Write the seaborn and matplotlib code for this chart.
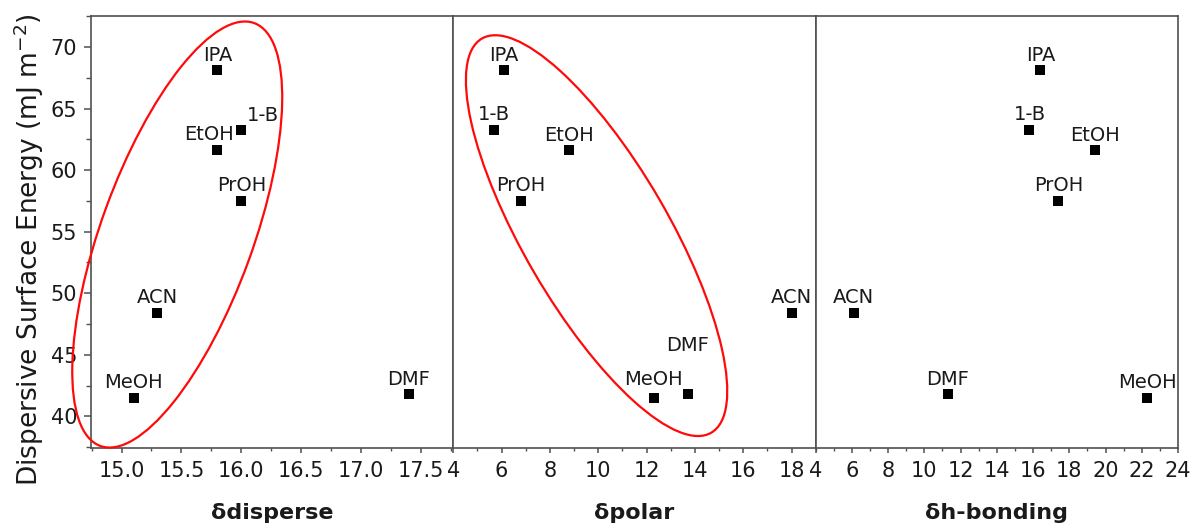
import numpy as np
import pandas as pd
import matplotlib
matplotlib.use("Agg")
import matplotlib.pyplot as plt
from matplotlib.patches import Ellipse
from matplotlib.transforms import ScaledTranslation
from matplotlib.ticker import MultipleLocator, FormatStrFormatter
import seaborn as sns

# Hansen solubility parameters of the solvents and the measured dispersive surface energy
solvents = ["MeOH", "EtOH", "IPA", "PrOH", "1-B", "ACN", "DMF"]
d_disperse = [15.1, 15.8, 15.8, 16.0, 16.0, 15.3, 17.4]
d_polar = [12.3, 8.8, 6.1, 6.8, 5.7, 18.0, 13.7]
d_hbond = [22.3, 19.4, 16.4, 17.4, 15.8, 6.1, 11.3]
surface_energy = [41.5, 61.6, 68.1, 57.5, 63.3, 48.4, 41.8]

panel_titles = ["\u03b4disperse", "\u03b4polar", "\u03b4h-bonding"]
y_title = "Dispersive Surface Energy (mJ m$^{-2}$)"

df = pd.DataFrame({
    "solvent": solvents,
    "disperse": d_disperse,
    "polar": d_polar,
    "hbond": d_hbond,
    "energy": surface_energy,
})

sns.set_style("ticks")
plt.rcParams["font.family"] = ["DejaVu Sans"]

frame_color = "#505050"
text_color = "#1a1a1a"

fig, axes = plt.subplots(1, 3, figsize=(11.95, 5.25), dpi=100, sharey=True)
fig.subplots_adjust(left=91 / 1195, right=1178 / 1195,
                    bottom=77.5 / 525, top=1 - 16 / 525, wspace=0)

columns = ["disperse", "polar", "hbond"]
xlims = [(14.745, 17.77), (4, 19), (4, 24)]
majors = [0.5, 2, 2]
minors = [0.25, 1, 1]
formats = ["%.1f", "%d", "%d"]

# label offsets in pixels (dx, dy, ha), default is centred just above the marker
default_off = (0, 9.5, "center")
special_off = {
    (0, "1-B"): (6, 9, "left"),
    (0, "EtOH"): (-8, 10, "center"),
    (1, "DMF"): (0, 43, "center"),
    (1, "MeOH"): (0, 13, "center"),
}

for i, (ax, col) in enumerate(zip(axes, columns)):
    sns.scatterplot(data=df, x=col, y="energy", ax=ax, marker="s", s=44,
                    color="black", edgecolor="black", linewidth=0, zorder=3)
    for _, row in df.iterrows():
        dx, dy, ha = special_off.get((i, row["solvent"]), default_off)
        ax.annotate(row["solvent"], (row[col], row["energy"]),
                    xytext=(dx, dy), textcoords="offset pixels",
                    ha=ha, va="baseline", fontsize=14, color=text_color)
    ax.set_xlim(*xlims[i])
    ax.xaxis.set_major_locator(MultipleLocator(majors[i]))
    ax.xaxis.set_minor_locator(MultipleLocator(minors[i]))
    ax.xaxis.set_major_formatter(FormatStrFormatter(formats[i]))
    ax.set_xlabel(panel_titles[i], fontsize=16, fontweight="bold", color=text_color)
    ax.xaxis.set_label_coords(0.5, -0.128)
    ax.set_ylabel("")
    for sp in ax.spines.values():
        sp.set_visible(True)
        sp.set_color(frame_color)
        sp.set_linewidth(1.2)
    ax.tick_params(axis="x", which="major", direction="out", length=3.6,
                   width=1.1, color=frame_color, labelsize=15, pad=6.0,
                   labelcolor=text_color)
    ax.tick_params(axis="x", which="minor", direction="out", length=2.2,
                   width=1.0, color=frame_color)
    ax.tick_params(axis="y", which="both", left=(i == 0), labelleft=(i == 0),
                   right=False)

ax0 = axes[0]
ax0.set_ylim(37.47, 72.52)
ax0.yaxis.set_major_locator(MultipleLocator(5))
ax0.yaxis.set_minor_locator(MultipleLocator(2.5))
ax0.tick_params(axis="y", which="major", direction="out", length=5,
                width=1.1, color=frame_color, labelsize=15, pad=5.0,
                labelcolor=text_color)
ax0.tick_params(axis="y", which="minor", direction="out", length=3.6,
                width=1.0, color=frame_color)
ax0.set_ylabel(y_title, fontsize=19, color=text_color)
ax0.yaxis.set_label_coords(-0.125, 0.458)

# grouping ellipses, sized in inches around a centre given in data units
ellipses = [
    (axes[0], (15.465, 54.77), 4.50, 1.52, 70.0),
    (axes[1], (9.93, 54.68), 4.56, 1.45, 120.2),
]
for ax, centre, w, h, ang in ellipses:
    trans = fig.dpi_scale_trans + ScaledTranslation(centre[0], centre[1], ax.transData)
    ax.add_patch(Ellipse((0, 0), w, h, angle=ang, transform=trans,
                         fill=False, edgecolor="#ff0a0a", linewidth=1.6,
                         clip_on=False, zorder=4))

fig.savefig("out.png", dpi=100)
